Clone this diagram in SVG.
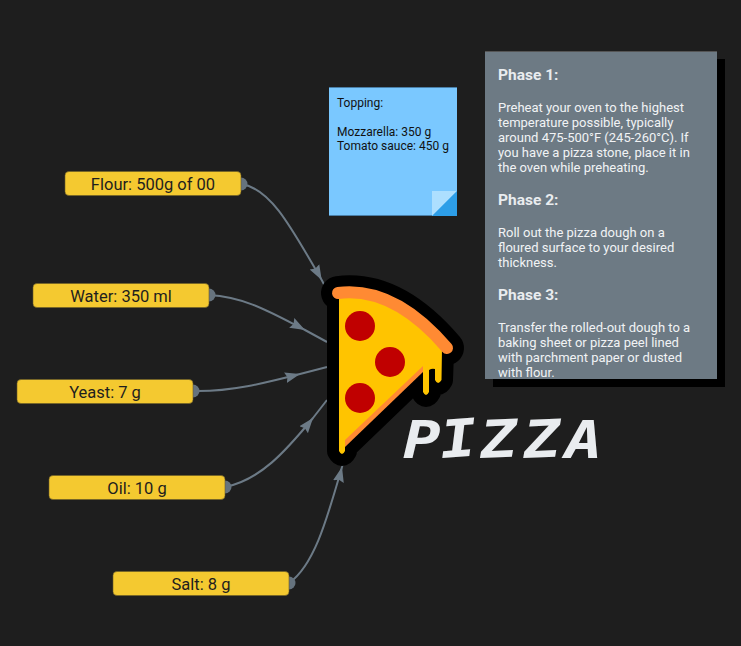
<svg xmlns="http://www.w3.org/2000/svg" width="741" height="646" viewBox="0 0 741 646">
<style>
.edge{fill:none;stroke:#6c7a86;stroke-width:2;marker-start:url(#dot);marker-mid:url(#arrow)}
.ing rect{fill:#f4c930;stroke:#6b5d28;stroke-width:.6}
.ing text{font:16.500px Roboto,"Liberation Sans",sans-serif;fill:#1e1e1e;text-anchor:middle}
.note{font:12px Roboto,"Liberation Sans",sans-serif;fill:#111}
.h{font:bold 15.500px Roboto,"Liberation Sans",sans-serif;fill:#e9ecef}
.b{font:13px Roboto,"Liberation Sans",sans-serif;fill:#f1f3f5}
.blk{stroke:#000;fill:#000;stroke-linecap:round;stroke-linejoin:round}
</style>
<defs>
<marker id="arrow" markerUnits="userSpaceOnUse" markerWidth="17" markerHeight="14" refX="15" refY="7" orient="auto"><path d="M0,1.500 L15,7 L0,12.500 L2,7 Z" fill="#6c7a86"/></marker>
<marker id="dot" markerUnits="userSpaceOnUse" markerWidth="14" markerHeight="14" refX="7" refY="7"><circle cx="7" cy="7" r="6.500" fill="#66737e"/></marker>
<clipPath id="pc"><rect x="485" y="51" width="232" height="328"/></clipPath>
</defs>
<rect width="741" height="646" fill="#1e1e1e"/>
<g id="connectors">
<path class="edge" d="M241,184 C270,188 290,225 321.7,280 L327,290"/>
<path class="edge" d="M209,295 C245,297 270,312 305,330 L327,342"/>
<path class="edge" d="M193,391 C230,392 265,383 300,374 L327,367"/>
<path class="edge" d="M225,487 C260,480 285,452 313,418 L327,400"/>
<path class="edge" d="M289,583 C315,565 328,515 342,467 L343,462"/>
</g>
<g id="flour" class="ing"><rect x="65" y="171.500" width="176" height="24" rx="4"/><text x="153" y="189.500">Flour: 500g of 00</text></g>
<g id="water" class="ing"><rect x="33" y="283.500" width="176" height="24" rx="4"/><text x="121" y="301.500">Water: 350 ml</text></g>
<g id="yeast" class="ing"><rect x="17" y="379.500" width="176" height="24" rx="4"/><text x="105" y="397.500">Yeast: 7 g</text></g>
<g id="oil" class="ing"><rect x="49" y="475.500" width="176" height="24" rx="4"/><text x="137" y="493.500">Oil: 10 g</text></g>
<g id="salt" class="ing"><rect x="113" y="571.500" width="176" height="24" rx="4"/><text x="201" y="589.500">Salt: 8 g</text></g>
<g id="pizza">
<path class="blk" stroke-width="24" d="M339,298 L339,451 Q342,457 345,451 L345,447 L423,372 L423,392 Q426,398 429,392 L429,366 L435,367 L435,380 Q438,386 441,380 L442,352 Z"/>
<path fill="none" stroke="#000" stroke-width="34" stroke-linecap="round" d="M338,293 Q394,286 447,348"/>
<path fill="#ff8a33" d="M339,298 L339,440 L345,447 L423,372 L423,362 Z"/>
<path fill="#ffc400" d="M339,295 Q395,292 442,348 L441.500,380 Q438,386 435,380 L435,369 Q432,368 429,370 L429,392 Q426,398 423,392 L423,366 L345,440 L345,451 Q342,457 339,451 Z"/>
<path fill="none" stroke="#ff8a33" stroke-width="12" stroke-linecap="round" d="M338,293 Q394,286 447,348"/>
<circle cx="360" cy="326" r="15" fill="#c00000"/>
<circle cx="390" cy="362" r="15" fill="#c00000"/>
<circle cx="360" cy="398" r="15" fill="#c00000"/>
<text transform="translate(403,458) scale(1.2,1)" x="0 32 65 101 135" y="0" rotate="0 -5 -3 -3 0" font-family="'DejaVu Sans Mono',monospace" font-weight="bold" font-style="italic" font-size="52" fill="#e9ecef">PIZZA</text>
</g>
<g id="topping">
<rect x="329" y="87" width="128" height="129" fill="#7ac8ff"/>
<path d="M329,87.500H457M329,215.500H432" stroke="#4a7fa8" stroke-width="1"/>
<path d="M432,191 H457 L432,216 Z" fill="#addfff"/>
<path d="M457,191 V216 H432 Z" fill="#2d9ee8"/>
<text class="note" x="337" y="107">Topping:</text>
<text class="note" x="337" y="136">Mozzarella: 350 g</text>
<text class="note" x="337" y="150">Tomato sauce: 450 g</text>
</g>
<g id="phases">
<rect x="493" y="59" width="232" height="328" fill="#000"/>
<rect x="485" y="51" width="232" height="328" fill="#6d7a84"/>
<path d="M485,51.500H717" stroke="#555" stroke-width="1"/>
<g clip-path="url(#pc)">
<text class="h" x="498" y="80">Phase 1:</text>
<text class="b" x="498" y="112">Preheat your oven to the highest</text>
<text class="b" x="498" y="127">temperature possible, typically</text>
<text class="b" x="498" y="142">around 475-500°F (245-260°C). If</text>
<text class="b" x="498" y="157">you have a pizza stone, place it in</text>
<text class="b" x="498" y="172">the oven while preheating.</text>
<text class="h" x="498" y="205">Phase 2:</text>
<text class="b" x="498" y="237">Roll out the pizza dough on a</text>
<text class="b" x="498" y="252">floured surface to your desired</text>
<text class="b" x="498" y="267">thickness.</text>
<text class="h" x="498" y="300">Phase 3:</text>
<text class="b" x="498" y="332">Transfer the rolled-out dough to a</text>
<text class="b" x="498" y="347">baking sheet or pizza peel lined</text>
<text class="b" x="498" y="362">with parchment paper or dusted</text>
<text class="b" x="498" y="377">with flour.</text>
</g>
</g>
</svg>
